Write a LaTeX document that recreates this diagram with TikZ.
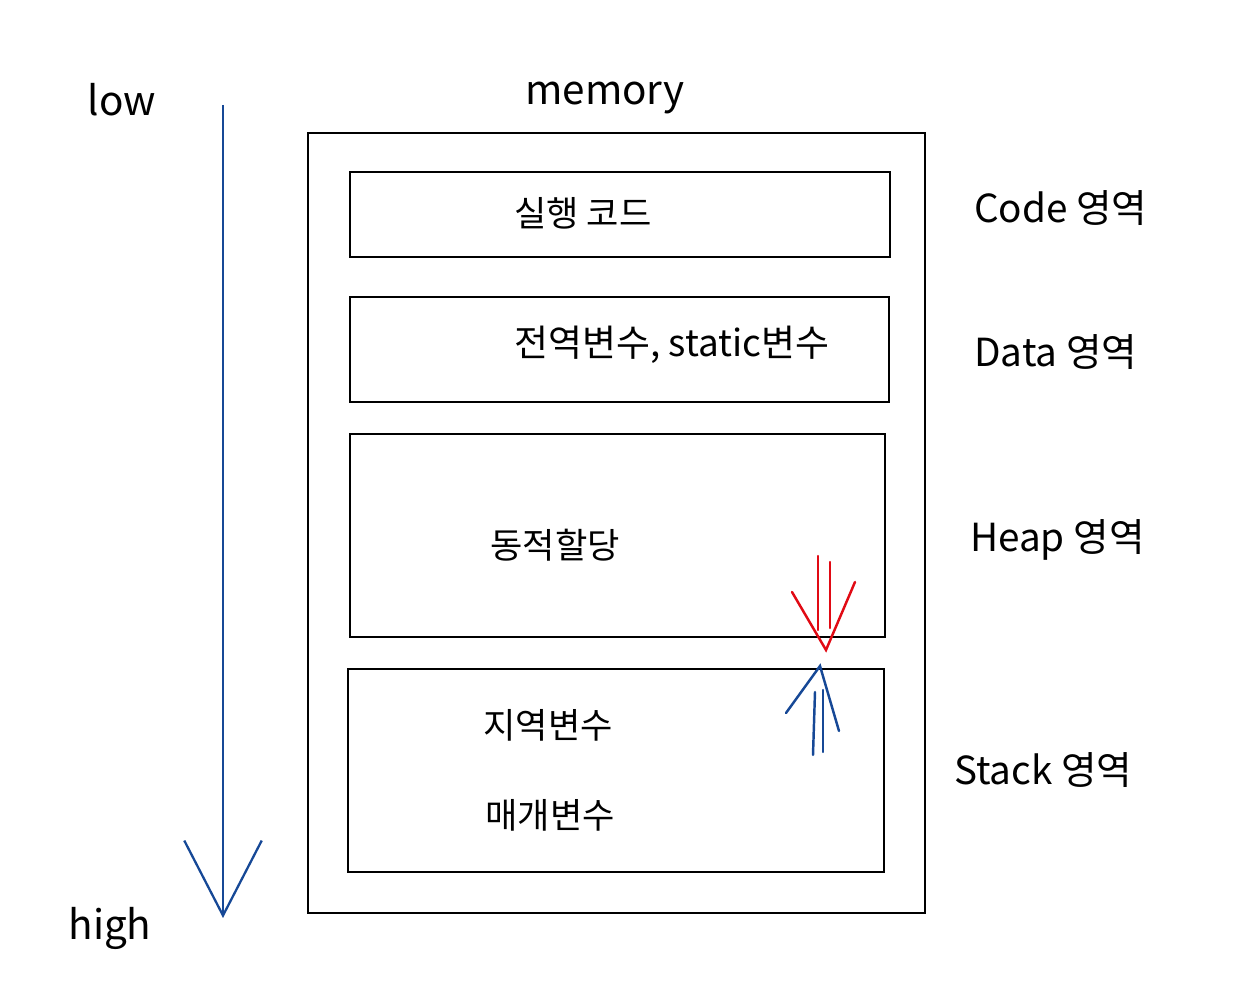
\documentclass[tikz,border=0pt]{standalone}
\usepackage{fontspec}
\setmainfont{Noto Sans CJK KR}
\usetikzlibrary{arrows.meta, positioning}
\definecolor{penblue}{RGB}{22, 72, 150}
\definecolor{penred}{RGB}{225, 10, 20}
\tikzset{
  membox/.style  = {rectangle, draw=black, line width=1.2pt, inner sep=0pt},
  seg/.style     = {rectangle, draw=black, line width=1.2pt, inner sep=0pt},
  segtxt/.style  = {font=\fontsize{20}{24}\selectfont, inner sep=1pt},
  side/.style    = {font=\fontsize{22}{26}\selectfont, anchor=west},
  hand/.style    = {font=\fontsize{23}{27}\selectfont},
  addrline/.style= {penblue, line width=1.3pt, -{Straight Barb[length=1.5cm, width=1.55cm, line width=1.3pt]}},
  pen/.style     = {line width=1.4pt, line cap=round, line join=miter},
}

\begin{document}
\begin{tikzpicture}[x=0.02cm, y=-0.02cm]
\useasboundingbox (0,0) rectangle (1245,999);

% 주소 방향
\node[hand] (low) at (122,100) {low};
\node[hand] (high) at (110,928) {high};
\coordinate (addrtop) at (223,105);
\coordinate (addrbot) at (223,918);
\draw[addrline] (addrtop) -- (addrbot);

% 메모리 전체
\node[hand] (memtitle) at (605,98) {memory};
\node[membox, minimum width=617*0.02cm, minimum height=780*0.02cm] (memory) at (616.5,523) {};

% 영역들
\node[seg, minimum width=540*0.02cm, minimum height=85*0.02cm] (code) at (620,214.5) {};
\node[segtxt] (codetxt) at (583,213) {실행 코드};

\node[seg, minimum width=539*0.02cm, minimum height=105*0.02cm] (data) at (619.5,349.5) {};
\node[segtxt, font=\fontsize{21}{25}\selectfont] (datatxt) at (672,345) {전역변수, static변수};

\node[seg, minimum width=535*0.02cm, minimum height=203*0.02cm] (heap) at (617.5,535.5) {};
\node[segtxt] (heaptxt) at (555,545) {동적할당};

\node[seg, minimum width=536*0.02cm, minimum height=203*0.02cm] (stack) at (616,770.5) {};
\node[segtxt] (localtxt) at (548,725) {지역변수};
\node[segtxt] (paramtxt) at (550,815) {매개변수};

% 오른쪽 이름
\node[side] (codelbl) at (968,208) {Code 영역};
\node[side] (datalbl) at (968,352) {Data 영역};
\node[side] (heaplbl) at (964,540) {Heap 영역};
\node[side] (stacklbl) at (948,770) {Stack 영역};

% 힙은 아래로, 스택은 위로
\coordinate (heaptip) at (826,650);
\draw[pen, penred] (818,556) -- (818,630);
\draw[pen, penred] (830,562) -- (830,628);
\draw[pen, penred] (792,592) -- (heaptip) -- (855,582);

\coordinate (stacktip) at (820,666);
\draw[pen, penblue] (813,755) -- (815,692);
\draw[pen, penblue] (823,752) -- (823,690);
\draw[pen, penblue] (786,713) -- (stacktip) -- (839,731);

\end{tikzpicture}
\end{document}
